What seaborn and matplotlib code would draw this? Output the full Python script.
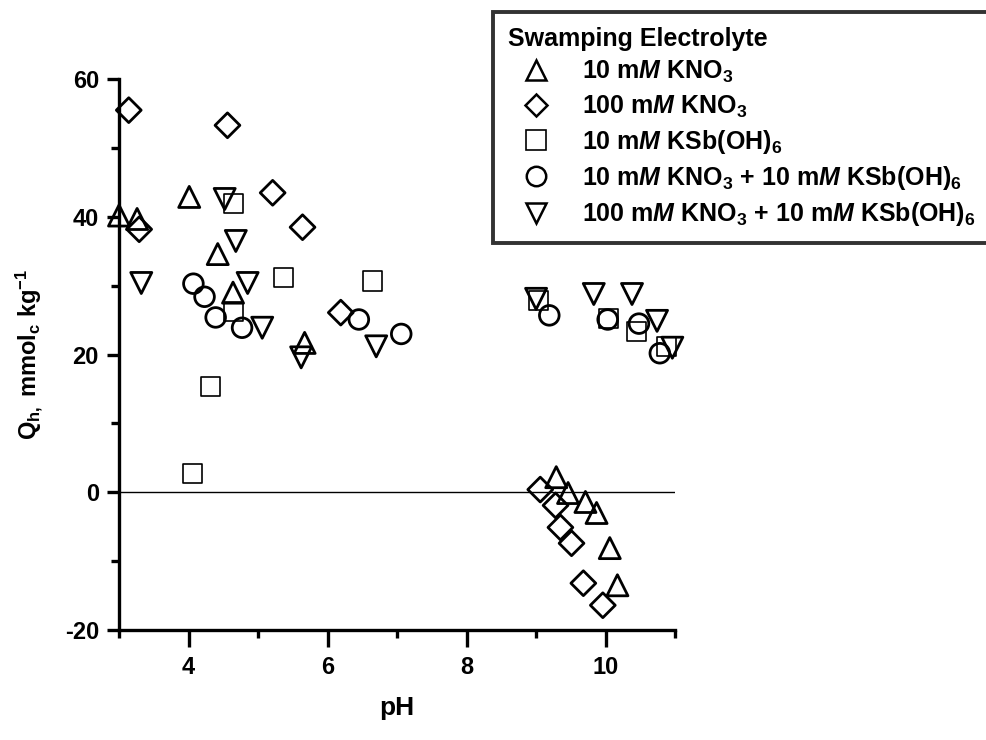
import matplotlib
matplotlib.use("Agg")
import matplotlib.pyplot as plt
from matplotlib.lines import Line2D
from matplotlib.ticker import MultipleLocator
import seaborn as sns
import pandas as pd

# ---- data ----
tri_ph = [3.0, 3.26, 4.01, 4.42, 4.64, 5.67, 9.29, 9.46, 9.71, 9.87, 10.06, 10.17]
tri_q = [40.2, 39.7, 42.9, 34.6, 29.0, 21.7, 2.2, -0.1, -1.4, -3.0, -8.1, -13.5]

dia_ph = [3.14, 3.29, 4.56, 5.21, 5.64, 6.19, 9.06, 9.28, 9.35, 9.51, 9.68, 9.96]
dia_q = [55.5, 38.2, 53.3, 43.5, 38.5, 26.1, 0.4, -1.9, -5.1, -7.4, -13.2, -16.4]

sq_ph = [4.06, 4.31, 4.65, 4.65, 5.36, 6.65, 9.03, 10.04, 10.45, 10.88]
sq_q = [2.7, 15.4, 26.3, 42.0, 31.2, 30.7, 27.8, 25.2, 23.4, 21.2]

cir_ph = [4.07, 4.23, 4.39, 4.77, 6.45, 7.06, 9.19, 10.03, 10.48, 10.78]
cir_q = [30.3, 28.4, 25.4, 23.9, 25.1, 23.0, 25.7, 25.1, 24.5, 20.2]

inv_ph = [3.32, 4.52, 4.68, 4.85, 5.06, 5.62, 6.7, 9.0, 9.83, 10.38, 10.74, 10.96]
inv_q = [30.4, 42.6, 36.5, 30.4, 23.9, 19.6, 21.2, 28.1, 28.8, 28.8, 24.9, 21.0]

labels = [
    r"10 m$M$ KNO$_3$",
    r"100 m$M$ KNO$_3$",
    r"10 m$M$ KSb(OH)$_6$",
    r"10 m$M$ KNO$_3$ + 10 m$M$ KSb(OH)$_6$",
    r"100 m$M$ KNO$_3$ + 10 m$M$ KSb(OH)$_6$",
]
series = [(tri_ph, tri_q), (dia_ph, dia_q), (sq_ph, sq_q), (cir_ph, cir_q), (inv_ph, inv_q)]
markers = ["^", "D", "s", "o", "v"]
sizes = [230, 160, 190, 200, 230]
lws = [2.0, 2.0, 1.2, 2.0, 2.0]

x_ticks = [4, 6, 8, 10]
y_ticks = [-20, 0, 20, 40, 60]

# ---- style ----
sns.set_theme(style="ticks")
plt.rcParams["font.family"] = ["Liberation Sans", "DejaVu Sans"]
plt.rcParams["font.weight"] = "bold"
plt.rcParams["mathtext.fontset"] = "custom"
plt.rcParams["mathtext.rm"] = "Liberation Sans:bold"
plt.rcParams["mathtext.it"] = "Liberation Sans:bold:italic"
plt.rcParams["mathtext.bf"] = "Liberation Sans:bold"
plt.rcParams["axes.unicode_minus"] = False
for k in ["text.color", "axes.labelcolor", "xtick.color", "ytick.color",
          "xtick.labelcolor", "ytick.labelcolor", "axes.edgecolor"]:
    plt.rcParams[k] = "black"

fig = plt.figure(figsize=(9.87, 7.4), dpi=100)
ax = fig.add_axes([0.1206, 0.1486, 0.684 - 0.1206, 0.893 - 0.1486])

frames = []
for lab, (px, qy) in zip(labels, series):
    frames.append(pd.DataFrame({"pH": px, "Q": qy, "set": lab}))
df = pd.concat(frames, ignore_index=True)

ax.axhline(0, color="black", lw=1.0, zorder=1)

for lab, m, s, lw in zip(labels, markers, sizes, lws):
    sub = df[df["set"] == lab]
    sns.scatterplot(data=sub, x="pH", y="Q", marker=m, s=s, color="black",
                    facecolor="none", edgecolor="black", linewidth=lw,
                    ax=ax, legend=False, zorder=3, clip_on=False)

ax.set_xlim(3, 11)
ax.set_ylim(-20, 60)
ax.set_xticks(x_ticks)
ax.set_yticks(y_ticks)
ax.xaxis.set_minor_locator(MultipleLocator(1))
ax.yaxis.set_minor_locator(MultipleLocator(10))
ax.tick_params(axis="x", which="major", length=12, width=2.4, labelsize=17, pad=7)
ax.tick_params(axis="x", which="minor", length=6, width=2.4)
ax.tick_params(axis="y", which="major", length=8.5, width=2.4, labelsize=17, pad=6)
ax.tick_params(axis="y", which="minor", length=5.5, width=2.4)
for lbl in ax.get_xticklabels() + ax.get_yticklabels():
    lbl.set_fontweight("bold")

sns.despine(ax=ax)
for sp in ["left", "bottom"]:
    ax.spines[sp].set_linewidth(2.4)
    ax.spines[sp].set_color("black")

ax.set_xlabel("pH", fontsize=19, fontweight="bold", labelpad=12)
ax.set_ylabel(r"Q$_{\mathrm{h,}}$ mmol$_{\mathrm{c}}$ kg$^{\mathrm{-1}}$",
              fontsize=17, fontweight="bold", labelpad=14)

handles = [Line2D([], [], marker=m, linestyle="none", markersize=14 if m != "D" else 11,
                  markerfacecolor="none", markeredgecolor="black",
                  markeredgewidth=1.8 if m != "s" else 1.2)
           for m in markers]
leg = fig.legend(handles, labels, title="Swamping Electrolyte",
                 loc="upper left", bbox_to_anchor=(0.4995, 0.984, 0.51, 0.0),
                 mode="expand", borderaxespad=0, frameon=True, fancybox=False,
                 prop={"size": 18, "weight": "bold"},
                 title_fontproperties={"size": 18, "weight": "bold"},
                 handletextpad=0.75, labelspacing=0.33, borderpad=0.6,
                 handlelength=2.2)
leg._legend_box.align = "left"
leg.get_frame().set_edgecolor("black")
leg.get_frame().set_linewidth(2.8)

fig.savefig("out.png", dpi=100)
